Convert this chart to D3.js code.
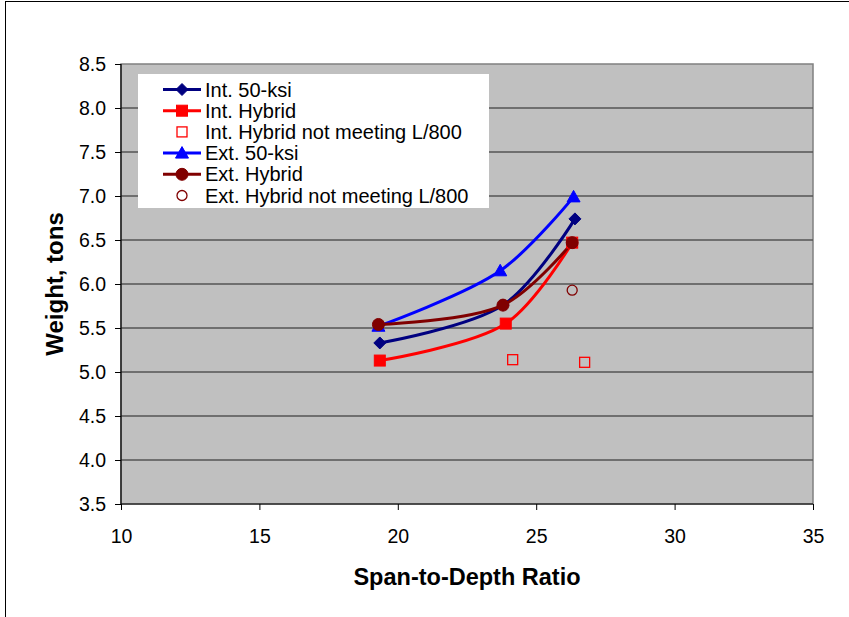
<!DOCTYPE html>
<html>
<head>
<meta charset="utf-8">
<script src="https://cdn.jsdelivr.net/npm/d3@7"></script>
<style>
  html, body { margin: 0; padding: 0; background: #fff; }
  svg { display: block; font-family: Arial, "Liberation Sans", sans-serif; }
</style>
</head>
<body>
<svg id="chart" width="849" height="617"></svg>
<script>
// Span-to-depth ratio (x) and weight in tons (y) for each girder series
const int50X = [19.35, 23.8, 26.4];
const int50Y = [5.33, 5.76, 6.74];

const intHybX = [19.35, 23.9, 26.3];
const intHybY = [5.13, 5.55, 6.47];

const intHybFailX = [24.15, 26.75];
const intHybFailY = [5.14, 5.11];

const ext50X = [19.3, 23.7, 26.35];
const ext50Y = [5.52, 6.15, 6.99];

const extHybX = [19.3, 23.8, 26.3];
const extHybY = [5.54, 5.76, 6.47];

const extHybFailX = [26.3];
const extHybFailY = [5.93];

const xTicks = [10, 15, 20, 25, 30, 35];
const yTicks = [3.5, 4.0, 4.5, 5.0, 5.5, 6.0, 6.5, 7.0, 7.5, 8.0, 8.5];

const legendLabels = [
  "Int. 50-ksi",
  "Int. Hybrid",
  "Int. Hybrid not meeting L/800",
  "Ext. 50-ksi",
  "Ext. Hybrid",
  "Ext. Hybrid not meeting L/800"
];

const zip = (xs, ys) => xs.map((x, i) => ({ x, y: ys[i] }));

const series = [
  { name: legendLabels[0], pts: zip(int50X, int50Y), color: "#000080", line: true, marker: "diamond", fill: true },
  { name: legendLabels[1], pts: zip(intHybX, intHybY), color: "#FF0000", line: true, marker: "square", fill: true },
  { name: legendLabels[2], pts: zip(intHybFailX, intHybFailY), color: "#FF0000", line: false, marker: "square", fill: false },
  { name: legendLabels[3], pts: zip(ext50X, ext50Y), color: "#0000FF", line: true, marker: "triangle", fill: true },
  { name: legendLabels[4], pts: zip(extHybX, extHybY), color: "#800000", line: true, marker: "circle", fill: true },
  { name: legendLabels[5], pts: zip(extHybFailX, extHybFailY), color: "#800000", line: false, marker: "circle", fill: false }
];

const svg = d3.select("#chart");

// outer chart frame
svg.append("rect")
  .attr("x", 5.5).attr("y", 1.5)
  .attr("width", 900).attr("height", 700)
  .attr("fill", "#fff").attr("stroke", "#000").attr("stroke-width", 1);

const plot = { left: 121, top: 64, right: 813, bottom: 504 };

const x = d3.scaleLinear().domain([10, 35]).range([plot.left, plot.right]);
const y = d3.scaleLinear().domain([3.5, 8.5]).range([plot.bottom, plot.top]);

// plot background
svg.append("rect")
  .attr("x", plot.left).attr("y", plot.top)
  .attr("width", plot.right - plot.left).attr("height", plot.bottom - plot.top)
  .attr("fill", "#C0C0C0")
  .attr("stroke", "#808080").attr("stroke-width", 1.5);

// horizontal gridlines
svg.append("g")
  .selectAll("line")
  .data(yTicks.filter(t => t > 3.5 && t < 8.5))
  .join("line")
  .attr("x1", plot.left).attr("x2", plot.right)
  .attr("y1", d => y(d)).attr("y2", d => y(d))
  .attr("stroke", "#555555").attr("stroke-width", 1.5);

// axes
const yAxis = d3.axisLeft(y).tickValues(yTicks).tickFormat(d3.format(".1f")).tickSize(6).tickPadding(9);
const xAxis = d3.axisBottom(x).tickValues(xTicks).tickFormat(d3.format("d")).tickSize(6).tickPadding(19);

const gy = svg.append("g").attr("transform", `translate(${plot.left},0)`).call(yAxis);
const gx = svg.append("g").attr("transform", `translate(0,${plot.bottom})`).call(xAxis);

[gx, gy].forEach(g => {
  g.select(".domain").attr("stroke", "#000").attr("stroke-width", 1.2);
  g.selectAll(".tick line").attr("stroke", "#000").attr("stroke-width", 1);
  g.selectAll(".tick text")
    .attr("fill", "#000")
    .style("font-size", "19.5px")
    .style("font-family", "Arial, 'Liberation Sans', sans-serif");
});
gy.select(".domain").attr("d", `M0,${plot.bottom}V${plot.top}`);
gx.select(".domain").attr("d", `M${plot.left},0H${plot.right}`);

// axis titles
svg.append("text")
  .attr("x", 467).attr("y", 585)
  .attr("text-anchor", "middle")
  .style("font-size", "23.5px").style("font-weight", "bold")
  .text("Span-to-Depth Ratio");

svg.append("text")
  .attr("transform", `translate(63,${(plot.top + plot.bottom) / 2}) rotate(-90)`)
  .attr("text-anchor", "middle")
  .style("font-size", "24px").style("font-weight", "bold")
  .text("Weight, tons");

// marker drawing
function drawMarker(g, s, cx, cy) {
  const sw = s.fill ? 1 : 1.3;
  const fill = s.fill ? s.color : "none";
  let m;
  if (s.marker === "diamond") {
    m = g.append("path").attr("d", `M${cx},${cy - 6}L${cx + 6},${cy}L${cx},${cy + 6}L${cx - 6},${cy}Z`);
  } else if (s.marker === "square") {
    const h = s.fill ? 5.5 : 5;
    m = g.append("rect").attr("x", cx - h).attr("y", cy - h).attr("width", 2 * h).attr("height", 2 * h);
  } else if (s.marker === "triangle") {
    m = g.append("path").attr("d", `M${cx},${cy - 6.5}L${cx + 6.5},${cy + 5}L${cx - 6.5},${cy + 5}Z`);
  } else {
    m = g.append("circle").attr("cx", cx).attr("cy", cy).attr("r", s.fill ? 6 : 5);
  }
  m.attr("fill", fill).attr("stroke", s.color).attr("stroke-width", sw);
}

const line = d3.line()
  .x(d => x(d.x)).y(d => y(d.y))
  .curve(d3.curveCatmullRom.alpha(0.5));

const gData = svg.append("g");
series.forEach(s => {
  if (s.line) {
    gData.append("path")
      .attr("d", line(s.pts))
      .attr("fill", "none")
      .attr("stroke", s.color)
      .attr("stroke-width", 3)
      .attr("stroke-linejoin", "round");
  }
});
series.forEach(s => {
  s.pts.forEach(p => drawMarker(gData, s, x(p.x), y(p.y)));
});

// legend
const lg = svg.append("g");
lg.append("rect")
  .attr("x", 138).attr("y", 74)
  .attr("width", 351).attr("height", 134)
  .attr("fill", "#fff");

series.forEach((s, i) => {
  const cy = 89.5 + i * 21.2;
  if (s.line) {
    lg.append("line")
      .attr("x1", 163).attr("x2", 201)
      .attr("y1", cy).attr("y2", cy)
      .attr("stroke", s.color).attr("stroke-width", 3);
  }
  drawMarker(lg, s, 182, cy);
  lg.append("text")
    .attr("x", 205).attr("y", cy + 7)
    .style("font-size", "20px")
    .attr("fill", "#000")
    .text(s.name);
});
</script>
</body>
</html>
